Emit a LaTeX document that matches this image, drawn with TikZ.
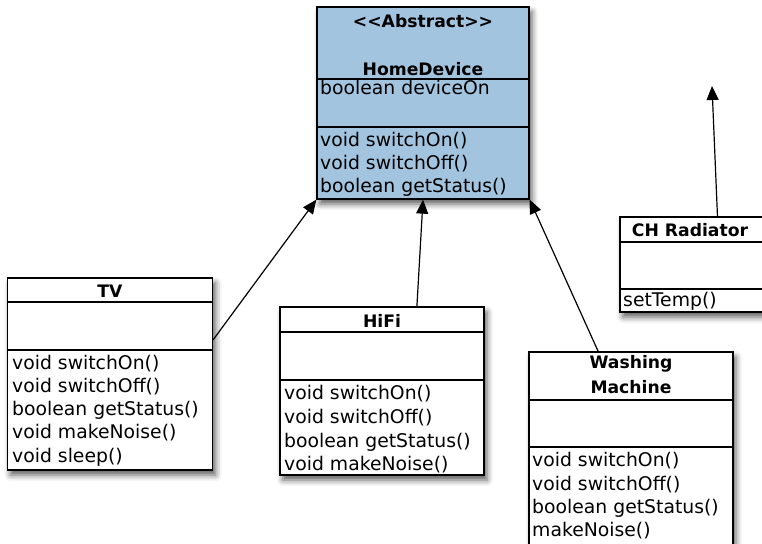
\documentclass[tikz,border=0pt]{standalone}
\usepackage{fontspec}
\setmainfont{DejaVu Sans}
\usetikzlibrary{arrows.meta, calc, shadows.blur}

\definecolor{abstractblue}{RGB}{162,196,223}

\tikzset{
  classbox/.style={draw=black, line width=1.3pt, fill=white, inner sep=0pt,
    blur shadow={shadow xshift=3pt, shadow yshift=-5pt, shadow blur radius=6pt, shadow opacity=65}},
  divider/.style={draw=black, line width=1.3pt},
  member/.style={anchor=base west, inner sep=0pt, font=\fontsize{18.8}{22}\selectfont},
  classtitle/.style={anchor=base, inner sep=0pt, font=\fontsize{17.2}{20}\selectfont\bfseries},
  inherit/.style={-{Triangle[length=14pt,width=12pt]}, line width=1.2pt}
}

\begin{document}
\begin{tikzpicture}[x=1pt,y=-1pt]
\useasboundingbox (0,0) rectangle (762,543);
\clip (0,0) rectangle (762,543);

% ---- HomeDevice (abstract) ----
\node[classbox, fill=abstractblue, minimum width=212pt, minimum height=192pt] (hd) at (423,103) {};
\draw[divider] (317,79) -- (529,79);
\draw[divider] (317,127) -- (529,127);
\node[classtitle] (hdstereo) at (423,28) {<{}<Abstract>{}>};
\node[classtitle] (hdname) at (423,75) {HomeDevice};
\node[member] (hdattr) at (320,94) {boolean deviceOn};
\node[member] (hdm1) at (320,146.5) {void switchOn()};
\node[member] (hdm2) at (320,169.5) {void switchOff()};
\node[member] (hdm3) at (320,192) {boolean getStatus()};

% ---- TV ----
\node[classbox, minimum width=205pt, minimum height=192pt] (tv) at (110,374) {};
\draw[divider] (7.5,302) -- (212.5,302);
\draw[divider] (7.5,350) -- (212.5,350);
\node[classtitle] (tvname) at (110,297) {TV};
\node[member] (tvm1) at (12,369) {void switchOn()};
\node[member] (tvm2) at (12,392) {void switchOff()};
\node[member] (tvm3) at (12,415) {boolean getStatus()};
\node[member] (tvm4) at (12,438.5) {void makeNoise()};
\node[member] (tvm5) at (12,462) {void sleep()};

% ---- HiFi ----
\node[classbox, minimum width=204pt, minimum height=168pt] (hifi) at (382,391) {};
\draw[divider] (280,332) -- (484,332);
\draw[divider] (280,380) -- (484,380);
\node[classtitle] (hifiname) at (382,327) {HiFi};
\node[member] (hifim1) at (284,399) {void switchOn()};
\node[member] (hifim2) at (284,423) {void switchOff()};
\node[member] (hifim3) at (284,447) {boolean getStatus()};
\node[member] (hifim4) at (284,470) {void makeNoise()};

% ---- Washing Machine ----
\node[classbox, minimum width=204pt, minimum height=210pt] (wm) at (631,457) {};
\draw[divider] (529,400) -- (733,400);
\draw[divider] (529,447) -- (733,447);
\node[classtitle] (wmname1) at (631,368) {Washing};
\node[classtitle] (wmname2) at (631,393) {Machine};
\node[member] (wmm1) at (532,466) {void switchOn()};
\node[member] (wmm2) at (532,490) {void switchOff()};
\node[member] (wmm3) at (532,513) {boolean getStatus()};
\node[member] (wmm4) at (532,536) {makeNoise()};

% ---- CH Radiator ----
\node[classbox, minimum width=143pt, minimum height=95pt] (ch) at (691.5,264.5) {};
\draw[divider] (620,242) -- (763,242);
\draw[divider] (620,289) -- (763,289);
\node[classtitle] (chname) at (690,236) {CH Radiator};
\node[member] (chm1) at (623,306) {setTemp()};

% ---- generalisation arrows ----
\coordinate (chtarget) at (712,86);
\draw[inherit] ($(tv.north east)!0.323!(tv.south east)$) -- (hd.south west);
\draw[inherit] ($(hifi.north west)!0.67!(hifi.north east)$) -- (hd.south);
\draw[inherit] ($(wm.north west)!0.34!(wm.north east)$) -- (hd.south east);
\draw[inherit] ($(ch.north west)!0.68!(ch.north east)$) -- (chtarget);
\end{tikzpicture}
\end{document}
